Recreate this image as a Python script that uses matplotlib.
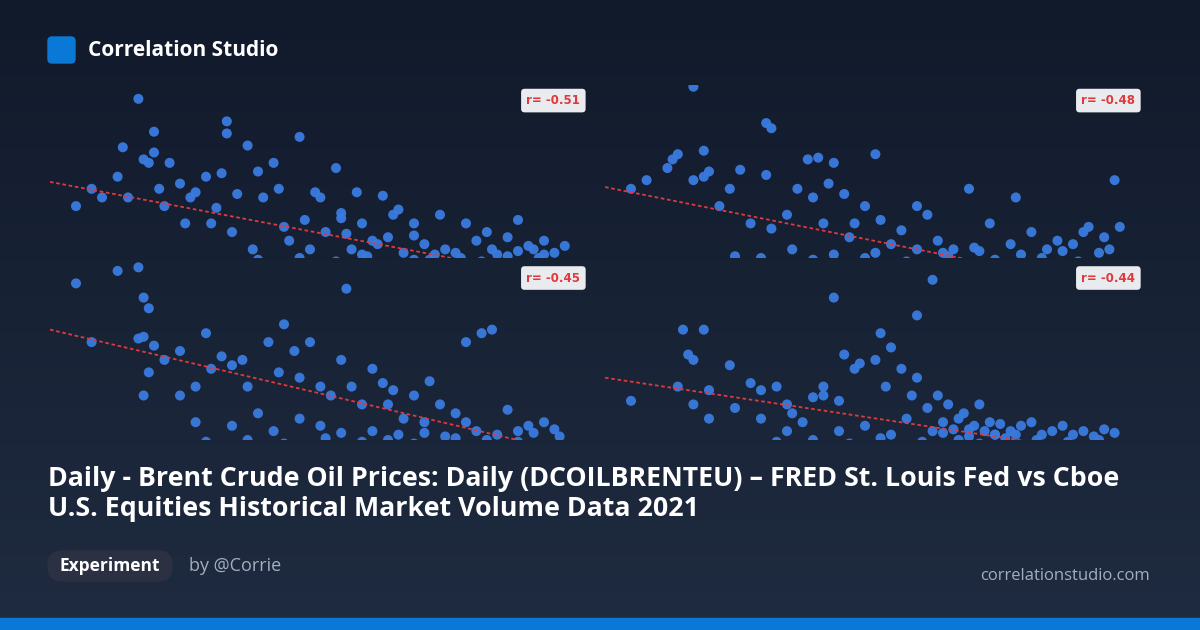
import numpy as np
import matplotlib.pyplot as plt
from matplotlib.patches import FancyBboxPatch, Rectangle
from matplotlib.colors import LinearSegmentedColormap

W, H = 1200, 630

# scatter panels: (x, y) in 0..100 units
tl_x = [17,20,14,18,13,19,21,25,28,30,33,36,34,34,40,38,41,44,49,43,48,51,52,56,56,55,59,60,64,66,65,70,70,72,75,76,80,82,85,88,90,92,93,95,97,99,5,10,8,15,22,26,31,35,39,46,50,53,58,62,68,74,78,84,86,90,95,20,23,27,32,45,57,63,67,
        40,48,55,61,70,79,83,88,94,60,73]
tl_y = [92,61,64,57,47,55,40,43,38,47,49,37,72,79,50,65,35,40,22,55,70,38,35,26,23,52,38,20,36,25,12,13,20,8,25,5,20,10,5,12,22,7,5,10,3,7,30,35,40,35,30,20,20,15,5,10,5,15,5,10,3,2,3,15,2,4,2,73,55,35,29,18,14,8,28,
        -1,0,-2,1,-1,0,-2,1,0,2,-1]
tr_x = [17,32,31,19,13,17,19,14,20,24,26,31,37,39,40,41,43,44,46,48,50,52,53,57,60,62,64,67,70,71,74,78,79,82,85,87,90,92,93,96,97,99,98,5,8,12,22,28,32,35,42,47,55,60,65,72,80,88,95,36,44,52,
        40,50,58,66,75,84,91,25,30]
tr_y = [99,75,78,62,57,45,47,60,50,40,51,48,40,57,35,58,43,55,37,20,30,60,22,16,30,25,10,5,40,6,20,8,35,15,5,10,8,15,18,12,5,18,45,40,45,52,30,20,17,25,20,12,8,5,3,4,2,4,3,5,2,3,
        -1,0,-2,1,-1,0,-2,1,0]
bl_x = [5,13,17,18,19,18,20,19,17,28,18,22,25,30,31,33,35,37,38,42,44,45,47,48,50,52,54,56,57,58,60,62,64,65,66,68,70,73,72,75,78,80,80,83,85,88,90,92,95,97,25,28,35,40,43,48,52,56,62,67,72,76,82,86,93,98,8,
        30,38,45,53,60,65,70,78,84,90]
bl_y = [88,95,97,80,74,58,53,38,57,30,25,45,50,60,40,47,42,45,30,55,38,65,50,35,55,30,25,45,85,30,20,40,32,20,28,12,25,33,10,20,15,10,55,60,62,17,5,8,10,6,25,10,8,15,5,12,8,4,5,3,4,2,5,3,4,2,55,
        -1,0,-2,1,-1,0,-2,1,0,-1]
br_x = [5,15,16,19,17,20,17,14,24,28,30,33,35,36,38,40,42,42,44,45,46,48,49,52,53,54,55,57,59,60,60,62,64,65,66,68,69,71,72,74,75,78,80,82,84,86,88,90,92,94,96,98,35,45,50,55,58,63,67,70,73,76,79,20,25,30,63,
        33,40,47,53,61,68,72,77,83,89,95,65,70,75]
br_y = [22,62,48,62,45,28,20,30,42,32,28,30,20,15,10,24,25,30,80,22,48,40,43,45,60,30,52,40,25,35,70,18,25,10,20,12,15,8,20,10,3,5,8,10,3,5,8,3,5,2,6,4,5,5,8,3,12,5,6,2,5,9,3,12,18,12,90,
        -1,0,-2,1,-1,0,-2,1,0,-1,0,4,6,3]

panels_x = [tl_x, tr_x, bl_x, br_x]
panels_y = [tl_y, tr_y, bl_y, br_y]
r_values = [-0.51, -0.48, -0.45, -0.44]
# trend line: value at x=0 and slope per unit x
trend_start = [44, 41, 62, 35]
trend_slope = [-0.57, -0.60, -0.69, -0.44]

title = ("Daily - Brent Crude Oil Prices: Daily (DCOILBRENTEU) \u2013 FRED St. Louis Fed vs Cboe\n"
         "U.S. Equities Historical Market Volume Data 2021")

fig = plt.figure(figsize=(12, 6.3), dpi=100)

# background gradient, darker at the top
bg = fig.add_axes([0, 0, 1, 1])
grad = np.linspace(0, 1, 256).reshape(-1, 1)
cm = LinearSegmentedColormap.from_list("bg", ["#111a2b", "#1f2b40"])
bg.imshow(grad, aspect="auto", cmap=cm, extent=[0, W, H, 0], origin="upper")
bg.set_xlim(0, W)
bg.set_ylim(H, 0)
bg.axis("off")

# header
bg.add_patch(FancyBboxPatch((48, 37), 27, 26, boxstyle="round,pad=0,rounding_size=4", color="#0a78d6"))
bg.text(88, 50, "Correlation Studio", color="white", fontsize=15, fontweight="bold",
        family="Open Sans", va="center")

# footer
bg.text(48, 494, title, color="white", fontsize=19.3, fontweight="bold", family="Open Sans",
        va="center", linespacing=1.2)
bg.add_patch(FancyBboxPatch((48, 551), 124, 30, boxstyle="round,pad=0,rounding_size=14", color="#2b3142"))
bg.text(110, 566, "Experiment", color="white", fontsize=12.5, fontweight="bold",
        family="Open Sans", ha="center", va="center")
bg.text(189, 566, "by @Corrie", color="#a6adbb", fontsize=13, family="Open Sans", va="center")
bg.text(1150, 576, "correlationstudio.com", color="#a6adbb", fontsize=12, family="Open Sans",
        ha="right", va="center")
bg.add_patch(Rectangle((0, 618), W, 12, color="#0a78d6"))

# scatter panels, pixel boxes (left, top, right, bottom)
boxes = [(50, 85, 570, 258), (605, 85, 1125, 258), (50, 262, 570, 440), (605, 262, 1125, 440)]
for i, (l, t, r, b) in enumerate(boxes):
    ax = fig.add_axes([l / W, 1 - b / H, (r - l) / W, (b - t) / H])
    ax.set_xlim(0, 100)
    ax.set_ylim(0, 100)
    ax.axis("off")
    ax.scatter(panels_x[i], panels_y[i], s=52, color="#3a7be0", alpha=0.95, edgecolors="none")
    xs = np.array([0, 100])
    ax.plot(xs, trend_start[i] + trend_slope[i] * xs, color="#e0393e", lw=1.3, ls=(0, (2, 1.5)))
    ax.text(96.8, 91, f"r= {r_values[i]:.2f}", color="#e0393e", fontsize=8.5, fontweight="bold",
            ha="center", va="center", clip_on=False,
            bbox=dict(boxstyle="round,pad=0.45,rounding_size=0.3", fc="#e9ebef", ec="none"))

fig.savefig("out.png", dpi=100)
